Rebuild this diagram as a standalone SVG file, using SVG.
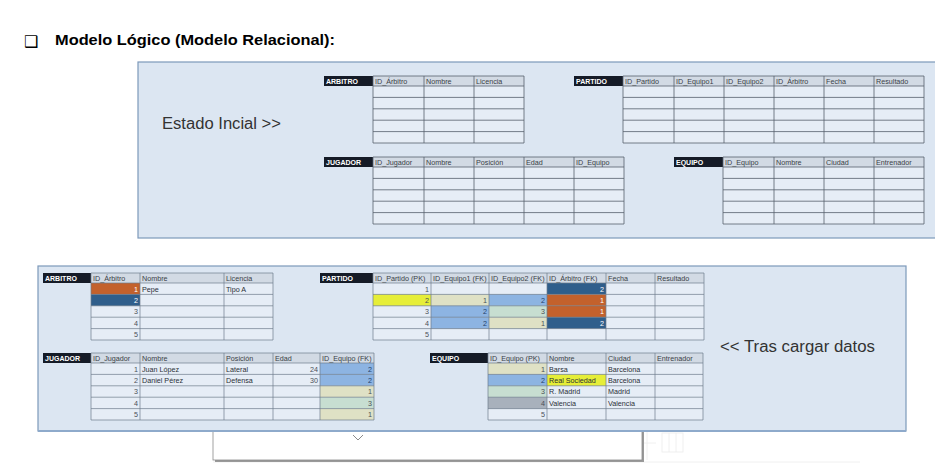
<svg xmlns="http://www.w3.org/2000/svg" width="935" height="469" viewBox="0 0 935 469">
<style>
.bg{fill:#ffffff}
.panel{fill:#dce6f2;stroke:#7c99ba;stroke-width:1.2}
.lbl{fill:#151b27}
.lt{font-family:"Liberation Sans",Arial,sans-serif;font-size:7px;font-weight:bold;fill:#ffffff}
.hd{fill:#d2dae4}
.cell{fill:#e6edf6}
.g{fill:none;stroke:#56606c;stroke-width:0.8}
.gb{fill:none;stroke:#6f7d8c;stroke-width:0.7}
.ht{font-family:"Liberation Sans",Arial,sans-serif;font-size:7.2px;fill:#3a3f47}
.t{font-family:"Liberation Sans",Arial,sans-serif;font-size:7.2px;fill:#2a2f36}
.n{text-anchor:end;fill:#4a4f57}
.nw{text-anchor:end;fill:#ffffff}
.nb{text-anchor:end;fill:#1f3f6a}
.or{fill:#c3612c}
.db{fill:#2f5e8b}
.lb{fill:#8db4e2}
.be{fill:#dfe1c5}
.gr{fill:#c7ded1}
.ye{fill:#e6ee38}
.gy{fill:#a8b1bc}
.big{font-family:"Liberation Sans",Arial,sans-serif;font-size:16px;fill:#333333}
.faint{fill:none;stroke:#ececec;stroke-width:0.8}
</style>
<rect class="bg" x="0" y="0" width="935" height="469"/>

<g id="title">
<text x="24" y="47" font-family="DejaVu Sans, sans-serif" font-size="16" fill="#000">❑</text>
<text x="55" y="45" font-family="Liberation Sans, Arial, sans-serif" font-size="15" font-weight="bold" fill="#000" textLength="280" lengthAdjust="spacingAndGlyphs">Modelo Lógico (Modelo Relacional):</text>
</g>

<g id="panel-inicial">
<rect class="panel" x="138" y="62" width="805" height="176"/>
<text class="big" x="162" y="129" textLength="119" lengthAdjust="spacingAndGlyphs">Estado Incial &gt;&gt;</text>
</g>

<g id="arbitro-inicial">
<rect class="lbl" x="324" y="76" width="49" height="10"/>
<text class="lt" x="326" y="84">ARBITRO</text>
<rect class="hd" x="373" y="76" width="151" height="10"/>
<rect class="cell" x="373" y="86" width="151" height="57"/>
<path class="g" d="M373 76H524V143H373Z M424 76V143 M474 76V143 M373 86H524 M373 97.4H524 M373 108.8H524 M373 120.2H524 M373 131.6H524"/>
<text class="ht" x="375" y="84">ID_Árbitro</text>
<text class="ht" x="426" y="84">Nombre</text>
<text class="ht" x="476" y="84">Licencia</text>
</g>

<g id="partido-inicial">
<rect class="lbl" x="574" y="76" width="49" height="10"/>
<text class="lt" x="576" y="84">PARTIDO</text>
<rect class="hd" x="623" y="76" width="301" height="10"/>
<rect class="cell" x="623" y="86" width="301" height="57"/>
<path class="g" d="M623 76H924V143H623Z M674 76V143 M724 76V143 M774 76V143 M824 76V143 M874 76V143 M623 86H924 M623 97.4H924 M623 108.8H924 M623 120.2H924 M623 131.6H924"/>
<text class="ht" x="625" y="84">ID_Partido</text>
<text class="ht" x="676" y="84">ID_Equipo1</text>
<text class="ht" x="726" y="84">ID_Equipo2</text>
<text class="ht" x="776" y="84">ID_Árbitro</text>
<text class="ht" x="826" y="84">Fecha</text>
<text class="ht" x="876" y="84">Resultado</text>
</g>

<g id="jugador-inicial">
<rect class="lbl" x="324" y="157" width="49" height="10"/>
<text class="lt" x="326" y="165">JUGADOR</text>
<rect class="hd" x="373" y="157" width="251" height="10"/>
<rect class="cell" x="373" y="167" width="251" height="57"/>
<path class="g" d="M373 157H624V224H373Z M424 157V224 M474 157V224 M524 157V224 M574 157V224 M373 167H624 M373 178.4H624 M373 189.8H624 M373 201.2H624 M373 212.6H624"/>
<text class="ht" x="375" y="165">ID_Jugador</text>
<text class="ht" x="426" y="165">Nombre</text>
<text class="ht" x="476" y="165">Posición</text>
<text class="ht" x="526" y="165">Edad</text>
<text class="ht" x="576" y="165">ID_Equipo</text>
</g>

<g id="equipo-inicial">
<rect class="lbl" x="674" y="157" width="49" height="10"/>
<text class="lt" x="676" y="165">EQUIPO</text>
<rect class="hd" x="723" y="157" width="201" height="10"/>
<rect class="cell" x="723" y="167" width="201" height="57"/>
<path class="g" d="M723 157H924V224H723Z M774 157V224 M824 157V224 M874 157V224 M723 167H924 M723 178.4H924 M723 189.8H924 M723 201.2H924 M723 212.6H924"/>
<text class="ht" x="725" y="165">ID_Equipo</text>
<text class="ht" x="776" y="165">Nombre</text>
<text class="ht" x="826" y="165">Ciudad</text>
<text class="ht" x="876" y="165">Entrenador</text>
</g>

<g id="sheet-below">
<path class="faint" d="M213 462H860 M647 430V460 M642 443H656"/>
<rect class="faint" x="662" y="433" width="21" height="19"/>
<path class="faint" d="M669 433V452 M676 433V452"/>
<rect x="215" y="426" width="429" height="36" fill="#9a9a9a"/>
<rect x="213" y="424" width="429" height="36" fill="#ffffff" stroke="#8a8a8a" stroke-width="0.8"/>
<polyline points="353,435 358,440 363,435" fill="none" stroke="#8a8a8a" stroke-width="1"/>
</g>

<g id="panel-cargado">
<rect class="panel" x="38" y="266" width="868" height="165"/>
<line x1="38" y1="431" x2="906" y2="431" stroke="#8eaacb" stroke-width="2"/>
<text class="big" x="720" y="352" textLength="155" lengthAdjust="spacingAndGlyphs">&lt;&lt; Tras cargar datos</text>
</g>

<g id="arbitro-datos">
<rect class="lbl" x="43" y="273" width="48" height="10"/>
<text class="lt" x="45" y="281">ARBITRO</text>
<rect class="hd" x="91" y="273" width="182" height="10"/>
<rect class="cell" x="91" y="283" width="182" height="57"/>
<rect class="or" x="91" y="283" width="49" height="11.4"/>
<rect class="db" x="91" y="294.4" width="49" height="11.4"/>
<path class="gb" d="M91 273H273V340H91Z M140 273V340 M224 273V340 M91 283H273 M91 294.4H273 M91 305.8H273 M91 317.2H273 M91 328.6H273"/>
<text class="ht" x="93" y="281">ID_Árbitro</text>
<text class="ht" x="142" y="281">Nombre</text>
<text class="ht" x="226" y="281">Licencia</text>
<text class="t nw" x="138" y="291.5">1</text>
<text class="t nw" x="138" y="302.9">2</text>
<text class="t n" x="138" y="314.3">3</text>
<text class="t n" x="138" y="325.7">4</text>
<text class="t n" x="138" y="337.1">5</text>
<text class="t" x="142" y="291.5">Pepe</text>
<text class="t" x="226" y="291.5">Tipo A</text>
</g>

<g id="partido-datos">
<rect class="lbl" x="320" y="273" width="53" height="10"/>
<text class="lt" x="322" y="281">PARTIDO</text>
<rect class="hd" x="373" y="273" width="331" height="10"/>
<rect class="cell" x="373" y="283" width="331" height="57"/>
<rect class="db" x="547" y="283" width="59" height="11.4"/>
<rect class="ye" x="373" y="294.4" width="58" height="11.4"/>
<rect class="be" x="431" y="294.4" width="58" height="11.4"/>
<rect class="lb" x="489" y="294.4" width="58" height="11.4"/>
<rect class="or" x="547" y="294.4" width="59" height="11.4"/>
<rect class="lb" x="431" y="305.8" width="58" height="11.4"/>
<rect class="gr" x="489" y="305.8" width="58" height="11.4"/>
<rect class="or" x="547" y="305.8" width="59" height="11.4"/>
<rect class="lb" x="431" y="317.2" width="58" height="11.4"/>
<rect class="be" x="489" y="317.2" width="58" height="11.4"/>
<rect class="db" x="547" y="317.2" width="59" height="11.4"/>
<path class="gb" d="M373 273H704V340H373Z M431 273V340 M489 273V340 M547 273V340 M606 273V340 M655 273V340 M373 283H704 M373 294.4H704 M373 305.8H704 M373 317.2H704 M373 328.6H704"/>
<text class="ht" x="375" y="281">ID_Partido (PK)</text>
<text class="ht" x="433" y="281">ID_Equipo1 (FK)</text>
<text class="ht" x="491" y="281">ID_Equipo2 (FK)</text>
<text class="ht" x="549" y="281">ID_Árbitro (FK)</text>
<text class="ht" x="608" y="281">Fecha</text>
<text class="ht" x="657" y="281">Resultado</text>
<text class="t n" x="429" y="291.5">1</text>
<text class="t nw" x="604" y="291.5">2</text>
<text class="t n" x="429" y="302.9">2</text>
<text class="t n" x="487" y="302.9">1</text>
<text class="t nb" x="545" y="302.9">2</text>
<text class="t nw" x="604" y="302.9">1</text>
<text class="t n" x="429" y="314.3">3</text>
<text class="t nb" x="487" y="314.3">2</text>
<text class="t n" x="545" y="314.3">3</text>
<text class="t nw" x="604" y="314.3">1</text>
<text class="t n" x="429" y="325.7">4</text>
<text class="t nb" x="487" y="325.7">2</text>
<text class="t n" x="545" y="325.7">1</text>
<text class="t nw" x="604" y="325.7">2</text>
<text class="t n" x="429" y="337.1">5</text>
</g>

<g id="jugador-datos">
<rect class="lbl" x="43" y="353" width="48" height="10"/>
<text class="lt" x="45" y="361">JUGADOR</text>
<rect class="hd" x="91" y="353" width="283" height="10"/>
<rect class="cell" x="91" y="363" width="283" height="57"/>
<rect class="lb" x="320" y="363" width="54" height="11.4"/>
<rect class="lb" x="320" y="374.4" width="54" height="11.4"/>
<rect class="be" x="320" y="385.8" width="54" height="11.4"/>
<rect class="gr" x="320" y="397.2" width="54" height="11.4"/>
<rect class="be" x="320" y="408.6" width="54" height="11.4"/>
<path class="gb" d="M91 353H374V420H91Z M140 353V420 M224 353V420 M273 353V420 M320 353V420 M91 363H374 M91 374.4H374 M91 385.8H374 M91 397.2H374 M91 408.6H374"/>
<text class="ht" x="93" y="361">ID_Jugador</text>
<text class="ht" x="142" y="361">Nombre</text>
<text class="ht" x="226" y="361">Posición</text>
<text class="ht" x="275" y="361">Edad</text>
<text class="ht" x="322" y="361">ID_Equipo (FK)</text>
<text class="t n" x="138" y="371.5">1</text>
<text class="t n" x="138" y="382.9">2</text>
<text class="t n" x="138" y="394.3">3</text>
<text class="t n" x="138" y="405.7">4</text>
<text class="t n" x="138" y="417.1">5</text>
<text class="t" x="142" y="371.5">Juan López</text>
<text class="t" x="142" y="382.9">Daniel Pérez</text>
<text class="t" x="226" y="371.5">Lateral</text>
<text class="t" x="226" y="382.9">Defensa</text>
<text class="t n" x="318" y="371.5">24</text>
<text class="t n" x="318" y="382.9">30</text>
<text class="t nb" x="372" y="371.5">2</text>
<text class="t nb" x="372" y="382.9">2</text>
<text class="t n" x="372" y="394.3">1</text>
<text class="t n" x="372" y="405.7">3</text>
<text class="t n" x="372" y="417.1">1</text>
</g>

<g id="equipo-datos">
<rect class="lbl" x="430" y="353" width="58" height="10"/>
<text class="lt" x="432" y="361">EQUIPO</text>
<rect class="hd" x="488" y="353" width="215" height="10"/>
<rect class="cell" x="488" y="363" width="215" height="57"/>
<rect class="be" x="488" y="363" width="59" height="11.4"/>
<rect class="lb" x="488" y="374.4" width="59" height="11.4"/>
<rect class="ye" x="547" y="374.4" width="59" height="11.4"/>
<rect class="gr" x="488" y="385.8" width="59" height="11.4"/>
<rect class="gy" x="488" y="397.2" width="59" height="11.4"/>
<path class="gb" d="M488 353H703V420H488Z M547 353V420 M606 353V420 M655 353V420 M488 363H703 M488 374.4H703 M488 385.8H703 M488 397.2H703 M488 408.6H703"/>
<text class="ht" x="490" y="361">ID_Equipo (PK)</text>
<text class="ht" x="549" y="361">Nombre</text>
<text class="ht" x="608" y="361">Ciudad</text>
<text class="ht" x="657" y="361">Entrenador</text>
<text class="t n" x="545" y="371.5">1</text>
<text class="t nb" x="545" y="382.9">2</text>
<text class="t n" x="545" y="394.3">3</text>
<text class="t n" x="545" y="405.7">4</text>
<text class="t n" x="545" y="417.1">5</text>
<text class="t" x="549" y="371.5">Barsa</text>
<text class="t" x="549" y="382.9">Real Sociedad</text>
<text class="t" x="549" y="394.3">R. Madrid</text>
<text class="t" x="549" y="405.7">Valencia</text>
<text class="t" x="608" y="371.5">Barcelona</text>
<text class="t" x="608" y="382.9">Barcelona</text>
<text class="t" x="608" y="394.3">Madrid</text>
<text class="t" x="608" y="405.7">Valencia</text>
</g>
</svg>
